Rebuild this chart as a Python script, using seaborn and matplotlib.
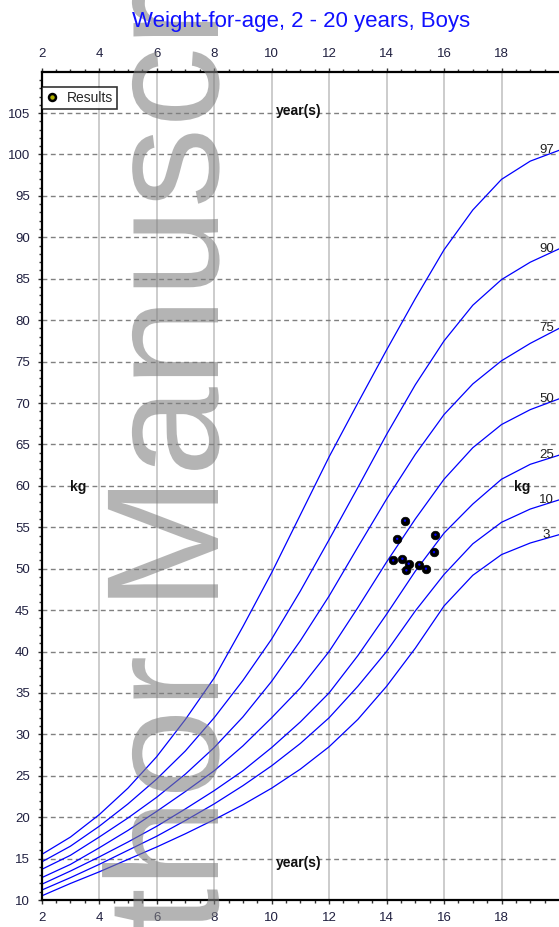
import numpy as np
import pandas as pd
import matplotlib
matplotlib.use("Agg")
import matplotlib.pyplot as plt
import seaborn as sns
from matplotlib.lines import Line2D
from matplotlib.textpath import TextPath
from matplotlib.patches import PathPatch
from matplotlib.font_manager import FontProperties
from matplotlib.transforms import Affine2D

# percentile curves (kg at each whole year of age)
ages = list(range(2, 21))
p3 = [10.5, 12.0, 13.4, 14.9, 16.4, 18.0, 19.7, 21.5, 23.5, 25.8, 28.5, 31.8, 35.8, 40.4, 45.5, 49.2, 51.7, 53.1, 54.1]
p10 = [11.2, 12.7, 14.3, 16.0, 17.7, 19.6, 21.6, 23.8, 26.2, 28.9, 32.0, 35.8, 40.0, 44.9, 49.3, 53.0, 55.6, 57.2, 58.3]
p25 = [11.9, 13.5, 15.2, 17.0, 18.9, 21.0, 23.2, 25.6, 28.4, 31.5, 35.0, 39.5, 44.5, 49.7, 54.3, 57.8, 60.8, 62.6, 63.7]
p50 = [12.7, 14.3, 16.3, 18.4, 20.7, 23.1, 25.6, 28.6, 32.0, 35.6, 40.0, 45.3, 50.8, 56.0, 60.8, 64.6, 67.4, 69.2, 70.5]
p75 = [13.7, 15.4, 17.6, 19.9, 22.4, 25.2, 28.4, 32.1, 36.4, 41.3, 46.7, 52.6, 58.4, 63.8, 68.6, 72.3, 75.1, 77.2, 79.0]
p90 = [14.6, 16.5, 18.9, 21.6, 24.6, 28.0, 32.0, 36.5, 41.5, 47.3, 53.5, 59.8, 66.2, 72.2, 77.5, 81.8, 84.9, 87.0, 88.6]
p97 = [15.5, 17.6, 20.3, 23.5, 27.3, 31.8, 36.8, 43.0, 49.5, 56.5, 63.5, 70.0, 76.4, 82.6, 88.5, 93.3, 97.0, 99.2, 100.5]
pct_names = ["3", "10", "25", "50", "75", "90", "97"]

# measured results
result_age = [14.64, 14.37, 15.70, 14.23, 14.55, 14.77, 14.69, 15.14, 15.37, 15.65]
result_weight = [55.8, 53.6, 54.1, 51.0, 51.2, 50.6, 49.8, 50.5, 50.0, 52.0]

x_ticks = list(range(2, 20, 2))
y_ticks = list(range(10, 110, 5))

curves = pd.DataFrame({
    "age": ages * 7,
    "weight": p3 + p10 + p25 + p50 + p75 + p90 + p97,
    "pct": sum([[n] * len(ages) for n in pct_names], []),
})
results = pd.DataFrame({"age": result_age, "weight": result_weight})

sns.set_style("white")
plt.rcParams['font.family'] = ['Liberation Sans', 'DejaVu Sans']

fig = plt.figure(figsize=(5.59, 9.27), dpi=100)
ax = fig.add_axes([0.0746, 0.0291, 0.9254, 0.8936])

# grid
for x in x_ticks:
    ax.axvline(x, color="#c4c4c4", lw=1.2, zorder=0)
for y in y_ticks:
    ax.axhline(y, color="#808080", lw=1.0, ls=(0, (3.5, 2.5)), zorder=0)

sns.lineplot(data=curves, x="age", y="weight", units="pct", estimator=None,
             color="#0000ff", lw=0.9, ax=ax, zorder=2)

sns.scatterplot(data=results, x="age", y="weight", s=38, color="black",
                edgecolor="black", linewidth=0.5, ax=ax, zorder=4)
sns.scatterplot(data=results, x="age", y="weight", s=3, color="#0000ff",
                edgecolor="none", ax=ax, zorder=5)

# percentile labels at the right end
ends = [p3[-1], p10[-1], p25[-1], p50[-1], p75[-1], p90[-1], p97[-1]]
for name, yv in zip(pct_names, ends):
    ax.text(19.56, yv, name, ha="center", va="center", fontsize=9.5, color="#222222")

ax.text(10.95, 105.3, "year(s)", ha="center", va="center", fontsize=10, fontweight="bold", color="#111111")
ax.text(10.95, 14.5, "year(s)", ha="center", va="center", fontsize=10, fontweight="bold", color="#111111")
ax.text(3.26, 59.9, "kg", ha="center", va="center", fontsize=10, fontweight="bold", color="#111111")
ax.text(18.71, 59.8, "kg", ha="center", va="center", fontsize=10, fontweight="bold", color="#111111")

ax.set_xlim(2, 20)
ax.set_ylim(10, 110)
ax.set_xticks(x_ticks)
ax.set_xticks(np.arange(2, 20, 0.5), minor=True)
ax.set_yticks(y_ticks)
ax.set_yticks(range(10, 110), minor=True)
ax.set_xlabel("")
ax.set_ylabel("")
ax.tick_params(axis="x", which="both", top=True, labeltop=True, bottom=True, direction="out",
               colors="#333333", labelcolor="#202040", labelsize=9.5)
ax.tick_params(axis="y", which="both", left=True, direction="out", colors="#333333",
               labelcolor="#202040", labelsize=9.5)
ax.tick_params(which="major", length=3, width=1, pad=5.5)
ax.tick_params(which="minor", length=2, width=1)
for side in ["left", "top", "bottom"]:
    ax.spines[side].set_color("black")
    ax.spines[side].set_linewidth(1.6)
ax.spines["right"].set_visible(False)

handle = Line2D([], [], ls="none", marker="o", markersize=5, markerfacecolor="#b0b000",
                markeredgecolor="black", markeredgewidth=1.8)
leg = ax.legend([handle], ["Results"], loc="upper left", bbox_to_anchor=(0.0, 0.9815),
                borderaxespad=0, fancybox=False, frameon=True, fontsize=10,
                handlelength=0.9, handletextpad=0.6, borderpad=0.3)
leg.get_frame().set_edgecolor("black")
leg.get_frame().set_linewidth(1.2)
leg.set_zorder(6)

fig.text(0.538, 0.977, "Weight-for-age, 2 - 20 years, Boys", ha="center", va="center",
         fontsize=16, color="#1010ff", zorder=10)

# watermark
fp = FontProperties(family="Liberation Sans")
tp = TextPath((0, 0), "Author Manuscript", size=1, prop=fp)
m_right = TextPath((0, 0), "Author M", size=1, prop=fp).get_extents().x1
ty = (927 - 490) - 161 * m_right
tr = Affine2D().scale(161, 160).rotate_deg(90).translate(218, ty)
wm = PathPatch(tp, transform=tr, facecolor="#7f7f7f", edgecolor="none", alpha=0.58, zorder=5)
fig.add_artist(wm)

fig.savefig("out.png", dpi=100)
